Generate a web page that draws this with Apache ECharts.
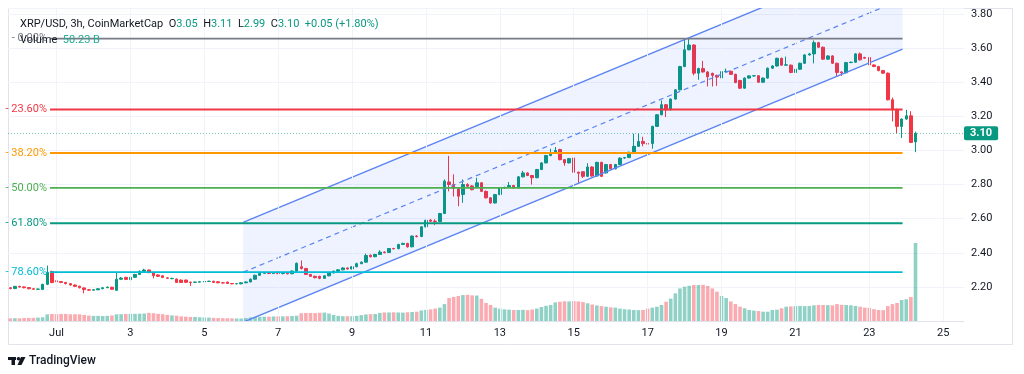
<!DOCTYPE html>
<html><head><meta charset="utf-8">
<script src="https://cdn.jsdelivr.net/npm/echarts@6/dist/echarts.min.js"></script>
<style>html,body{margin:0;padding:0;background:#fff}#c{width:1024px;height:374px}</style>
</head><body><div id="c"></div>
<script>
// ---- data (3h candles, Jun 29 18:00 -> Jul 24 06:00) ----
const opens=[
2.195,2.190,2.203,2.200,2.196,2.189,2.186,2.185,2.215,2.290,
2.236,2.231,2.226,2.219,2.211,2.204,2.194,2.183,2.181,2.183,
2.189,2.195,2.198,2.180,2.245,2.256,2.242,2.256,2.273,2.292,
2.299,2.284,2.270,2.265,2.253,2.248,2.246,2.240,2.240,2.228,
2.227,2.228,2.229,2.232,2.233,2.230,2.224,2.228,2.220,2.218,
2.218,2.224,2.229,2.245,2.268,2.280,2.281,2.279,2.286,2.278,
2.285,2.277,2.292,2.318,2.308,2.273,2.262,2.262,2.250,2.265,
2.282,2.292,2.300,2.311,2.305,2.318,2.336,2.345,2.386,2.377,
2.390,2.404,2.402,2.425,2.424,2.449,2.455,2.435,2.498,2.495,
2.552,2.592,2.586,2.583,2.630,2.815,2.800,2.775,2.742,2.800,
2.792,2.788,2.810,2.760,2.722,2.692,2.741,2.780,2.783,2.794,
2.780,2.845,2.868,2.853,2.840,2.888,2.927,2.970,2.985,3.005,
2.946,2.927,2.956,2.872,2.875,2.848,2.903,2.850,2.930,2.868,
2.917,2.892,2.917,2.955,2.958,2.989,3.024,3.053,3.040,3.040,
3.141,3.209,3.268,3.238,3.301,3.355,3.492,3.590,3.618,3.453,
3.480,3.460,3.452,3.440,3.425,3.462,3.464,3.446,3.410,3.365,
3.424,3.437,3.438,3.400,3.424,3.482,3.495,3.540,3.500,3.500,
3.457,3.476,3.511,3.560,3.566,3.632,3.605,3.535,3.554,3.511,
3.460,3.455,3.515,3.517,3.566,3.545,3.545,3.501,3.492,3.468,
3.453,3.297,3.238,3.141,3.184,3.203,3.050];
const closes=[
2.190,2.203,2.199,2.195,2.189,2.186,2.187,2.215,2.285,2.225,
2.230,2.226,2.219,2.211,2.203,2.195,2.184,2.181,2.183,2.189,
2.195,2.199,2.186,2.245,2.252,2.244,2.256,2.273,2.292,2.299,
2.284,2.266,2.262,2.255,2.250,2.250,2.226,2.226,2.227,2.226,
2.228,2.230,2.232,2.233,2.226,2.224,2.223,2.220,2.218,2.219,
2.224,2.229,2.245,2.268,2.280,2.281,2.279,2.281,2.278,2.280,
2.277,2.293,2.338,2.308,2.273,2.262,2.254,2.250,2.265,2.282,
2.292,2.300,2.311,2.305,2.318,2.336,2.345,2.384,2.377,2.390,
2.404,2.401,2.425,2.423,2.449,2.455,2.435,2.498,2.495,2.552,
2.590,2.585,2.583,2.630,2.820,2.800,2.778,2.732,2.800,2.790,
2.770,2.810,2.760,2.722,2.692,2.741,2.780,2.783,2.794,2.780,
2.845,2.868,2.853,2.840,2.888,2.927,2.970,2.985,3.000,2.946,
2.927,2.952,2.872,2.866,2.848,2.903,2.850,2.930,2.848,2.917,
2.892,2.917,2.955,2.958,2.989,3.024,3.053,3.040,3.037,3.141,
3.209,3.268,3.238,3.301,3.355,3.492,3.590,3.618,3.453,3.480,
3.460,3.432,3.440,3.430,3.462,3.464,3.446,3.398,3.365,3.424,
3.437,3.438,3.400,3.424,3.482,3.495,3.540,3.500,3.502,3.457,
3.476,3.511,3.560,3.566,3.632,3.605,3.535,3.554,3.511,3.457,
3.455,3.515,3.517,3.566,3.531,3.541,3.501,3.492,3.468,3.453,
3.297,3.238,3.141,3.184,3.203,3.047,3.100];
const lows=[
2.186,2.188,2.196,2.192,2.186,2.184,2.183,2.181,2.210,2.222,
2.226,2.222,2.215,2.207,2.199,2.191,2.162,2.177,2.179,2.181,
2.187,2.193,2.184,2.178,2.240,2.240,2.239,2.253,2.270,2.289,
2.280,2.250,2.258,2.251,2.246,2.245,2.223,2.223,2.224,2.206,
2.222,2.225,2.227,2.229,2.223,2.221,2.220,2.217,2.215,2.215,
2.215,2.222,2.227,2.243,2.265,2.276,2.275,2.275,2.274,2.274,
2.273,2.275,2.290,2.302,2.270,2.258,2.250,2.245,2.248,2.262,
2.279,2.289,2.297,2.302,2.303,2.315,2.333,2.342,2.372,2.374,
2.387,2.397,2.400,2.420,2.421,2.446,2.430,2.432,2.490,2.492,
2.549,2.580,2.562,2.580,2.627,2.760,2.730,2.673,2.693,2.785,
2.766,2.785,2.756,2.718,2.688,2.689,2.738,2.776,2.780,2.776,
2.778,2.842,2.849,2.800,2.837,2.885,2.924,2.966,2.982,2.942,
2.910,2.924,2.868,2.810,2.838,2.845,2.846,2.847,2.844,2.865,
2.888,2.889,2.914,2.951,2.955,2.986,3.021,3.024,3.004,3.010,
3.138,3.206,3.196,3.235,3.298,3.352,3.488,3.587,3.440,3.414,
3.456,3.375,3.375,3.378,3.422,3.458,3.442,3.394,3.360,3.362,
3.421,3.433,3.395,3.397,3.421,3.479,3.492,3.496,3.496,3.453,
3.418,3.473,3.508,3.556,3.510,3.600,3.531,3.531,3.507,3.434,
3.437,3.452,3.512,3.514,3.527,3.537,3.497,3.488,3.464,3.449,
3.293,3.170,3.100,3.073,3.180,3.043,2.990];
const highs=[
2.198,2.206,2.206,2.203,2.198,2.191,2.190,2.218,2.325,2.295,
2.240,2.234,2.229,2.222,2.214,2.207,2.196,2.186,2.186,2.192,
2.198,2.202,2.201,2.282,2.258,2.259,2.259,2.276,2.296,2.306,
2.302,2.287,2.274,2.268,2.256,2.253,2.249,2.243,2.243,2.230,
2.231,2.233,2.235,2.236,2.236,2.233,2.227,2.231,2.222,2.222,
2.227,2.232,2.249,2.272,2.286,2.285,2.284,2.285,2.289,2.284,
2.288,2.296,2.343,2.355,2.311,2.276,2.266,2.265,2.268,2.285,
2.296,2.304,2.315,2.314,2.321,2.342,2.349,2.395,2.390,2.394,
2.415,2.408,2.428,2.429,2.452,2.459,2.458,2.501,2.503,2.556,
2.594,2.597,2.596,2.634,2.830,2.968,2.860,2.780,2.830,2.808,
2.797,2.840,2.814,2.765,2.726,2.745,2.784,2.788,2.815,2.798,
2.850,2.880,2.872,2.857,2.892,2.931,2.974,3.010,3.020,3.010,
2.950,2.956,2.960,2.876,2.879,2.925,2.907,2.934,2.934,2.921,
2.921,2.921,2.959,2.962,2.993,3.098,3.098,3.080,3.070,3.145,
3.213,3.293,3.272,3.305,3.359,3.496,3.648,3.655,3.622,3.485,
3.525,3.465,3.456,3.444,3.466,3.480,3.468,3.450,3.414,3.428,
3.441,3.442,3.442,3.428,3.486,3.500,3.544,3.544,3.550,3.504,
3.480,3.515,3.564,3.572,3.645,3.636,3.609,3.558,3.558,3.515,
3.464,3.519,3.521,3.570,3.574,3.549,3.549,3.505,3.496,3.472,
3.457,3.310,3.245,3.188,3.238,3.230,3.110];
const volumes=[ // billions
1.7,1.8,1.7,1.9,2.0,2.0,2.2,2.4,4.3,4.5,
4.4,4.5,4.5,4.3,4.4,4.3,3.9,3.5,3.3,3.3,
3.2,3.3,3.6,4.3,4.4,4.5,4.6,4.6,4.7,4.8,
5.2,5.0,4.6,4.4,3.9,3.6,3.4,3.0,2.8,2.6,
2.6,2.4,2.3,2.2,2.0,1.9,1.8,1.8,1.7,1.6,
1.6,1.9,2.3,2.6,2.7,2.8,2.8,2.9,3.0,3.0,
3.1,3.2,3.4,5.0,5.2,5.2,5.1,5.3,5.4,4.8,
3.9,3.3,3.1,3.1,3.1,3.3,3.8,4.2,4.4,4.5,
5.2,5.5,5.5,5.6,5.5,5.4,5.6,5.8,6.0,6.8,
7.2,7.5,8.0,8.6,10.9,14.8,15.5,16.1,16.7,16.9,
16.5,16.4,14.3,11.6,10.3,8.6,8.0,7.5,7.3,7.1,
7.1,7.2,7.0,7.4,8.0,9.0,9.8,10.3,12.0,12.4,
12.7,12.6,12.8,12.6,12.2,11.4,10.6,10.0,9.6,9.2,
8.8,8.6,8.0,7.6,7.4,7.1,7.0,7.1,8.0,8.6,
9.2,10.3,12.4,14.4,17.8,21.0,22.1,22.7,23.2,23.2,
23.3,22.6,21.0,18.9,16.1,14.8,12.6,10.9,9.2,8.2,
7.1,6.7,6.4,6.0,6.0,7.1,7.3,8.2,9.2,9.4,
9.6,9.7,9.6,9.7,10.1,10.3,10.3,10.2,10.1,10.9,
10.4,10.3,10.1,9.7,9.2,8.6,8.5,7.6,7.1,7.0,
9.6,10.9,11.6,13.5,14.0,15.5,50.23];
const dayLabels=['Jul','3','5','7','9','11','13','15','17','19','21','23','25'];
const yTicks=[2.2,2.4,2.6,2.8,3.0,3.2,3.4,3.6,3.8];
const fibRatios=['0.00%','23.60%','38.20%','50.00%','61.80%','78.60%'];
const fibLevels=[3.655,3.240,2.985,2.780,2.573,2.287];
const fibColors=['#787b86','#f23645','#ff9800','#4caf50','#089981','#00bcd4'];
const fibSpan=[8.6,193.2];            // bar index range of the fib drawing
const channelSpan=[50.4,193.2];       // bar index range of the regression channel
const channelUpper=[2.578,4.179];
const channelLower=[1.993,3.594];
const lastPrice=3.10, lastVolume=50.23;

// ---- categories (3h slots) ----
const slotCount=207, firstLabelSlot=10, labelStep=16;
const t0=Date.UTC(2025,5,29,18);
const categories=Array.from({length:slotCount},(_,i)=>new Date(t0+i*3*3600e3).toISOString().slice(0,16));
const labelAt={};
dayLabels.forEach((l,k)=>{labelAt[firstLabelSlot+k*labelStep]=l;});
const labelSlots=Object.keys(labelAt).map(Number);

const UP='#089981', DOWN='#f23645';
const FONT='Roboto, "Noto Sans", sans-serif';
const candleData=opens.map((o,i)=>[o,closes[i],lows[i],highs[i]]);
const volData=volumes.map((v,i)=>({value:v,itemStyle:{color:closes[i]>=opens[i]?'rgba(8,153,129,0.45)':'rgba(242,54,69,0.42)'}}));
const priceLineStyle={color:'rgba(8,153,129,0.55)',type:[1,2],width:1};

const chart=echarts.init(document.getElementById('c'),null,{renderer:'canvas'});
chart.setOption({
  animation:false,
  backgroundColor:'#ffffff',
  textStyle:{fontFamily:FONT},
  title:[
    {left:15,top:14,text:'{n|XRP/USD, 3h, CoinMarketCap}  {n|O}{v|3.05}  {n|H}{v|3.11}  {n|L}{v|2.99}  {n|C}{v|3.10}  {v|+0.05 (+1.80%)}',
     textStyle:{fontSize:11,fontWeight:'normal',rich:{n:{color:'#131722',fontSize:11,fontFamily:FONT},v:{color:'#089981',fontSize:11,fontFamily:FONT}}}},
    {left:15,top:30,text:'{n|Volume}  {v|50.23 B}',
     textStyle:{fontSize:11,fontWeight:'normal',rich:{n:{color:'#131722',fontSize:11,fontFamily:FONT},v:{color:'#22ab94',fontSize:11,fontFamily:FONT}}}}
  ],
  grid:{left:8,right:60,top:8,bottom:53,containLabel:false},
  xAxis:[
    {type:'category',data:categories,boundaryGap:true,
     axisTick:{show:false},axisLine:{show:true,lineStyle:{color:'#e0e3eb'}},
     axisLabel:{interval:(i)=>labelAt[i]!==undefined,formatter:(v,i)=>labelAt[i]||'',color:'#131722',fontSize:11,margin:7,fontFamily:FONT},
     splitLine:{show:false}},
    {type:'value',min:-0.5,max:slotCount-0.5,show:false}
  ],
  yAxis:[
    {type:'value',position:'right',min:2.0,max:3.835,interval:0.2,scale:true,
     axisLine:{show:false},axisTick:{show:false},
     axisLabel:{color:'#131722',fontSize:11,margin:7,showMinLabel:false,showMaxLabel:false,fontFamily:FONT,
       formatter:(v)=>yTicks.some(t=>Math.abs(t-v)<1e-6)?v.toFixed(2):''},
     splitLine:{lineStyle:{color:'#f0f3fa'}}},
    {type:'value',min:0,max:201.6,show:false}
  ],
  graphic:[
    {type:'rect',silent:true,shape:{x:8.5,y:8.5,width:1004,height:336},style:{fill:'none',stroke:'#e0e3eb',lineWidth:1},z:-1},
    {type:'group',left:8,top:355,children:[
      {type:'rect',shape:{x:0,y:0,width:8,height:3},style:{fill:'#131722'}},
      {type:'rect',shape:{x:3.5,y:0,width:3.5,height:8},style:{fill:'#131722'}},
      {type:'circle',shape:{cx:10.5,cy:1.8,r:1.8},style:{fill:'#131722'}},
      {type:'polygon',shape:{points:[[13,0],[17.5,0],[13.5,8],[9.5,8]]},style:{fill:'#131722'}},
      {type:'text',style:{x:21,y:4,text:'TradingView',fill:'#131722',font:'500 12px '+FONT,verticalAlign:'middle'}}
    ]}
  ],
  series:[
    {type:'line',xAxisIndex:1,yAxisIndex:0,data:[[-10,0]],showSymbol:false,silent:true,z:0,
     markLine:{silent:true,symbol:'none',label:{show:false},lineStyle:{color:'#f0f3fa',type:'solid',width:1},
       data:labelSlots.map(s=>({xAxis:s}))}},
    {type:'custom',name:'channel',xAxisIndex:1,yAxisIndex:0,z:3,silent:true,
     data:[[channelSpan[0],channelUpper[0],channelSpan[1],channelUpper[1],channelLower[0],channelLower[1]]],
     encode:{x:[0,2],y:[1,3]},
     renderItem:(params,api)=>{
       const u0=api.coord([api.value(0),api.value(1)]),u1=api.coord([api.value(2),api.value(3)]);
       const l0=api.coord([api.value(0),api.value(4)]),l1=api.coord([api.value(2),api.value(5)]);
       const m0=[u0[0],(u0[1]+l0[1])/2],m1=[u1[0],(u1[1]+l1[1])/2];
       const cs=params.coordSys;
       const st={stroke:'#5b84f2',lineWidth:1.4};
       return {type:'group',clipPath:{type:'rect',shape:{x:cs.x,y:cs.y,width:cs.width,height:cs.height}},children:[
         {type:'polygon',shape:{points:[u0,u1,l1,l0]},style:{fill:'rgba(41,98,255,0.075)'}},
         {type:'line',shape:{x1:u0[0],y1:u0[1],x2:u1[0],y2:u1[1]},style:st},
         {type:'line',shape:{x1:l0[0],y1:l0[1],x2:l1[0],y2:l1[1]},style:st},
         {type:'line',shape:{x1:m0[0],y1:m0[1],x2:m1[0],y2:m1[1]},style:{stroke:'#5b84f2',lineWidth:1.2,lineDash:[5,4]}}
       ]};
     }},
    {type:'bar',name:'Volume',xAxisIndex:0,yAxisIndex:1,data:volData,barWidth:'78%',z:1,silent:true,
     markLine:{silent:true,symbol:'none',lineStyle:{opacity:0},
       label:{show:true,position:'end',distance:0,formatter:'50.23 B',color:'#fff',backgroundColor:'#22ab94',padding:[1,4,1,4],lineHeight:12,fontSize:11,fontFamily:FONT,borderRadius:2},
       data:[{yAxis:lastVolume}]}},
    {type:'candlestick',name:'XRP',xAxisIndex:0,yAxisIndex:0,data:candleData,barWidth:3,z:2,silent:true,
     itemStyle:{color:UP,color0:DOWN,borderColor:UP,borderColor0:DOWN,borderWidth:1},
     markLine:{silent:true,symbol:'none',lineStyle:priceLineStyle,
       label:{show:true,position:'end',distance:0,formatter:'3.10',color:'#fff',backgroundColor:'#089981',padding:[1,6,1,6],lineHeight:12,fontSize:11,fontWeight:'bold',fontFamily:FONT,borderRadius:2},
       data:[{yAxis:lastPrice,lineStyle:priceLineStyle}]}},
    {type:'custom',name:'fib',xAxisIndex:1,yAxisIndex:0,z:5,silent:true,
     data:fibLevels.map((p,k)=>[fibSpan[0],p,fibSpan[1],k]),
     encode:{x:[0,2],y:1},
     renderItem:(params,api)=>{
       const k=api.value(3);
       const a=api.coord([api.value(0),api.value(1)]),b=api.coord([api.value(2),api.value(1)]);
       return {type:'group',children:[
         {type:'line',shape:{x1:a[0],y1:a[1],x2:b[0],y2:b[1]},style:{stroke:fibColors[k],lineWidth:1.8}},
         {type:'text',style:{text:'- '+fibRatios[k],x:a[0]-3,y:a[1],align:'right',verticalAlign:'middle',fill:fibColors[k],font:'11px '+FONT}}
       ]};
     }}
  ]
});
</script></body></html>
